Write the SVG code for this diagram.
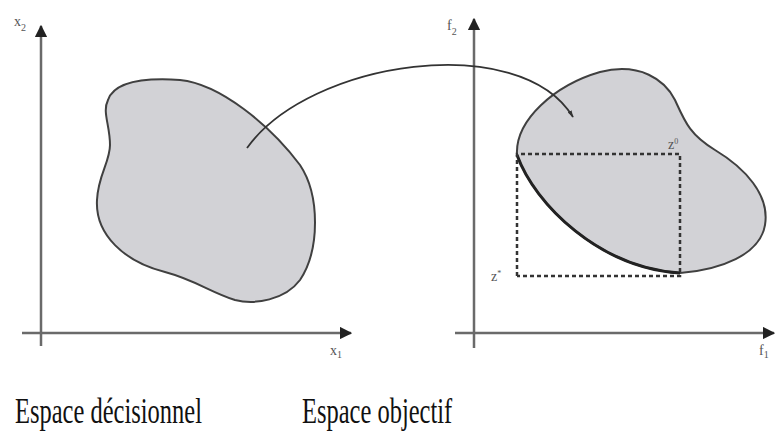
<svg xmlns="http://www.w3.org/2000/svg" width="775" height="434" viewBox="0 0 775 434">
<style>
.axis{stroke:#6a6a6a;stroke-width:2.5;fill:none}
.blob{fill:#d2d2d6;stroke:#404040;stroke-width:2}
.dash{stroke:#333;stroke-width:2.5;stroke-dasharray:4 3;fill:none}
.lbl{font-family:"Liberation Serif","Times New Roman",serif;fill:#555;font-size:14px}
.sub{font-size:10px}
.cap{font-family:"Liberation Serif","Times New Roman",serif;fill:#111;font-size:24.5px}
</style>
<defs>
<marker id="ah" viewBox="0 0 10 10" refX="9" refY="5" markerWidth="5" markerHeight="5" orient="auto" markerUnits="strokeWidth">
<path d="M0,0 L10,5 L0,10 Z" fill="#222"/>
</marker>
<marker id="sm" viewBox="0 0 10 10" refX="9" refY="5" markerWidth="4" markerHeight="4" orient="auto" markerUnits="strokeWidth">
<path d="M0,2 L10,5 L0,8 Z" fill="#333"/>
</marker>
</defs>
<rect width="775" height="434" fill="#fff"/>
<g id="decision-axes">
<line class="axis" x1="41" y1="346" x2="41" y2="26" marker-end="url(#ah)"/>
<line class="axis" x1="22" y1="333" x2="351" y2="333" marker-end="url(#ah)"/>
<text class="lbl" x="14" y="26">x<tspan class="sub" dy="5">2</tspan></text>
<text class="lbl" x="330" y="355">x<tspan class="sub" dy="3">1</tspan></text>
</g>
<g id="objective-axes">
<line class="axis" x1="474" y1="348" x2="474" y2="19" marker-end="url(#ah)"/>
<line class="axis" x1="455" y1="333" x2="774" y2="333" marker-end="url(#ah)"/>
<text class="lbl" x="447" y="30">f<tspan class="sub" dy="5">2</tspan></text>
<text class="lbl" x="759" y="355">f<tspan class="sub" dy="3">1</tspan></text>
</g>
<g id="decision-set">
<path class="blob" d="M108,100 C115,80 150,78 180,80 C220,84 270,125 300,165 C320,195 320,250 300,280 C285,300 255,305 235,300 C210,292 195,280 165,272 C125,262 95,235 97,200 C98,175 110,162 110,145 C110,125 102,112 108,100 Z"/>
</g>
<g id="objective-set">
<path class="blob" d="M517,155 C515,120 555,85 600,72 C640,62 665,80 675,100 C685,122 690,135 715,150 C745,168 770,195 765,225 C760,255 720,270 680,273 C600,268 535,205 517,155 Z"/>
<path d="M517,155 C535,205 600,268 680,273" fill="none" stroke="#222" stroke-width="3"/>
<polyline class="dash" points="517,276 517,154 680,154 680,276 517,276"/>
<text class="lbl" x="668" y="149" font-size="12">z<tspan font-size="8" dy="-5">0</tspan></text>
<text class="lbl" x="491" y="281" font-size="12">z<tspan font-size="8" dy="-5">*</tspan></text>
</g>
<g id="connectors">
<path d="M247,148 C310,60 520,30 573,117" fill="none" stroke="#333" stroke-width="1.8" marker-end="url(#sm)"/>
</g>
<g id="captions">
<text class="cap" transform="translate(15,423) scale(1,1.45)">Espace décisionnel</text>
<text class="cap" transform="translate(302,423) scale(1,1.45)">Espace objectif</text>
</g>
</svg>
